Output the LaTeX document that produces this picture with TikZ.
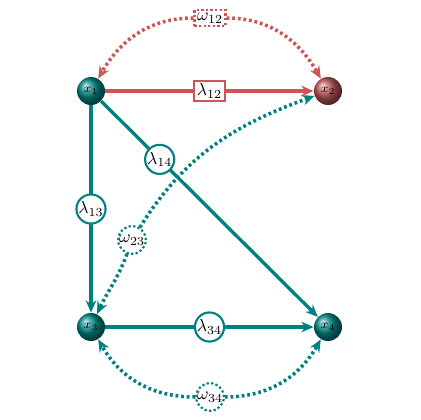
\documentclass[tikz,border=0pt]{standalone}
\usetikzlibrary{arrows.meta}
\definecolor{tl}{RGB}{0,128,128}
\definecolor{rd}{RGB}{205,85,85}
\definecolor{rball}{RGB}{185,85,85}
\definecolor{tball}{RGB}{0,135,135}
\tikzset{
  var/.style={circle, minimum size=0.56cm, inner sep=0pt, shading=ball, ball color=#1, font=\scriptsize, text=black},
  tline/.style={draw=tl, line width=1.9pt, -{Stealth[length=7pt,width=6pt]}},
  rline/.style={draw=rd, line width=1.9pt, -{Stealth[length=7pt,width=6pt]}},
  tdot/.style={draw=tl, line width=2pt, dash pattern=on 1.6pt off 1.6pt, -{Stealth[length=7pt,width=6pt]}},
  rdot/.style={draw=rd, line width=2pt, dash pattern=on 1.6pt off 1.6pt, -{Stealth[length=7pt,width=6pt]}},
  tlab/.style={circle, draw=tl, line width=1.2pt, fill=white, inner sep=0pt, minimum size=0.52cm},
  rlab/.style={rectangle, draw=rd, line width=1.2pt, fill=white, inner sep=1.5pt},
  tdlab/.style={circle, draw=tl, line width=1.2pt, dash pattern=on 1.3pt off 1.3pt, fill=white, inner sep=0pt, minimum size=0.52cm},
  rdlab/.style={rectangle, draw=rd, line width=1.2pt, dash pattern=on 1.3pt off 1.3pt, fill=white, inner sep=1.5pt},
}
\begin{document}
\begin{tikzpicture}[x=0.02cm,y=-0.02cm]
\useasboundingbox (0,0) rectangle (420,420);
\node[var=tball] (x1) at (91,91) {$x_1$};
\node[var=rball] (x2) at (328,91) {$x_2$};
\node[var=tball] (x3) at (91,327) {$x_3$};
\node[var=tball] (x4) at (328,327) {$x_4$};
\node[rdlab] (w12) at (210,18) {$\omega_{12}$};
\node[tdlab] (w23) at (132,240) {$\omega_{23}$};
\node[tdlab] (w34) at (210,397) {$\omega_{34}$};
% omega curves
\draw[rdot] (w12) to[out=180,in=60] (x1);
\draw[rdot] (w12) to[out=0,in=120] (x2);
\draw[tdot] (w34) to[out=180,in=-60] (x3);
\draw[tdot] (w34) to[out=0,in=-120] (x4);
\draw[tdot] (w23) to[out=-110,in=65] (x3);
\draw[tdot] (w23) to[out=58,in=200] (x2);
% lambda edges
\draw[rline] (x1) -- node[rlab] {$\lambda_{12}$} (x2);
\draw[tline] (x1) -- node[tlab] {$\lambda_{13}$} (x3);
\draw[tline] (x1) -- node[tlab, pos=0.27] {$\lambda_{14}$} (x4);
\draw[tline] (x3) -- node[tlab] {$\lambda_{34}$} (x4);
\end{tikzpicture}
\end{document}
